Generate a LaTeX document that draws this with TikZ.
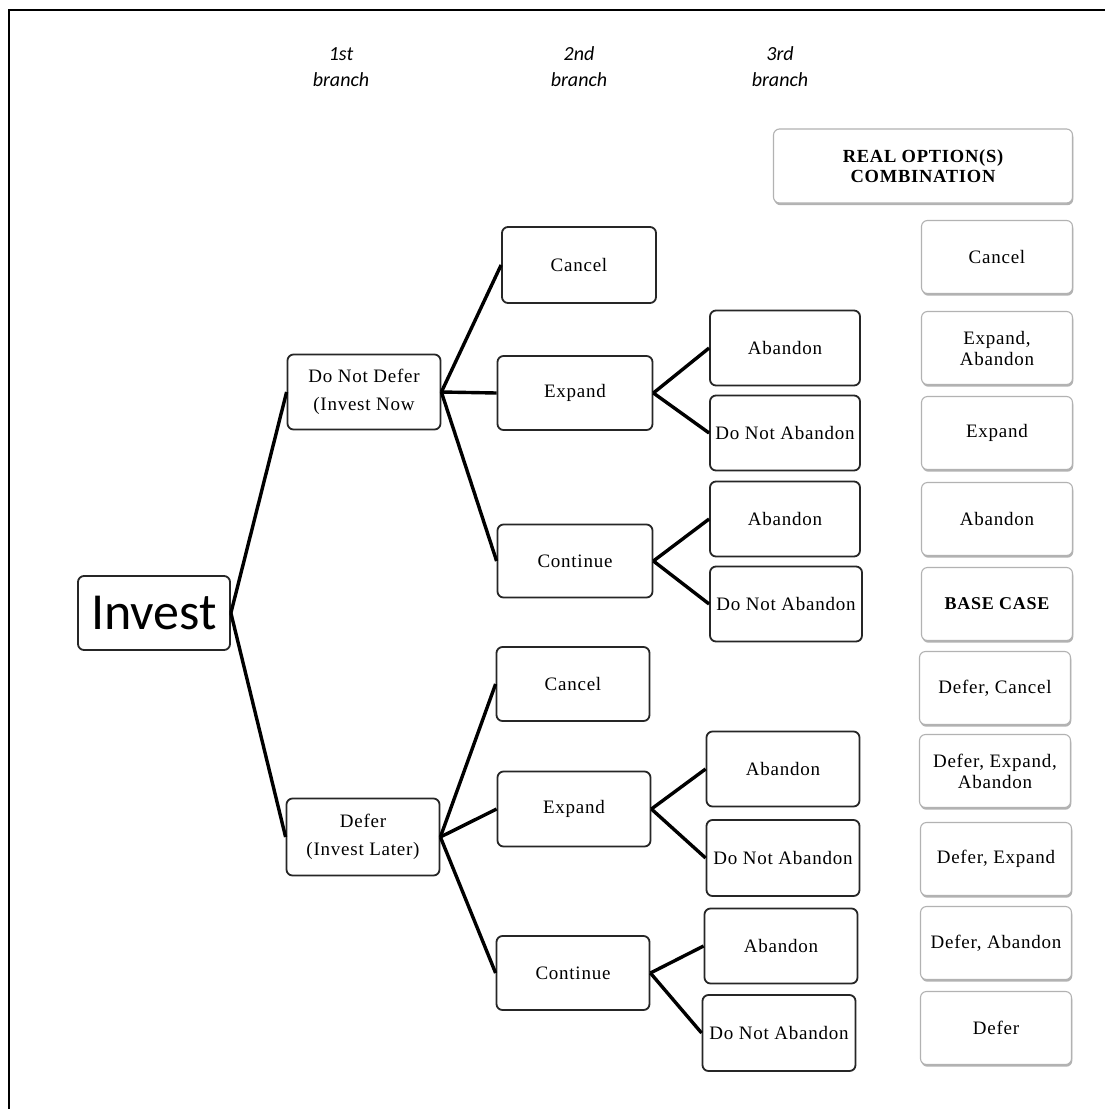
\documentclass[tikz,border=0pt]{standalone}
\usepackage{fontspec}
\setmainfont{Liberation Serif}
\newfontfamily\boxfont[LetterSpace=4]{Liberation Serif}
\newfontfamily\headfont{Carlito}
\usetikzlibrary{shadows}
\begin{document}
\begin{tikzpicture}[x=1pt,y=-1pt,
  treebox/.style={draw=black!85, line width=1.8pt, rounded corners=6pt, fill=white,
    minimum width=153pt, minimum height=75pt, inner sep=0pt, align=center,
    font=\boxfont\fontsize{19}{28}\selectfont},
  combo/.style={draw=black!30, line width=1.1pt, rounded corners=6pt, fill=white,
    minimum width=151pt, minimum height=73pt, inner sep=0pt, align=center,
    font=\boxfont\fontsize{19}{21}\selectfont,
    drop shadow={shadow xshift=0.8pt, shadow yshift=-2.2pt, fill=black, opacity=0.3}},
  link/.style={line width=3.4pt, black},
  head/.style={font=\headfont\itshape\fontsize{20}{26}\selectfont, align=center}]

\useasboundingbox (0,0) rectangle (1105,1109);
\fill[white] (0,0) rectangle (1105,1109);

% page frame (left and top rules)
\draw[line width=2.6pt, line cap=rect] (9,1109) -- (9,10) -- (1105,10);

% column headings
\node[head] (h1) at (341,67) {1st\\branch};
\node[head] (h2) at (579,67) {2nd\\branch};
\node[head] (h3) at (780,67) {3rd\\branch};

% root
\node[treebox, minimum width=152pt, minimum height=74pt,
      font=\headfont\fontsize{52}{60}\selectfont] (inv) at (154,613) {Invest};

% first branch
\node[treebox] (dnd) at (364,392) {Do Not Defer\\(Invest Now};
\node[treebox, minimum height=77pt] (def) at (363,837) {Defer\\(Invest Later)};

% second branch
\node[treebox, minimum width=154pt, minimum height=76pt] (c1) at (579,265) {Cancel};
\node[treebox, minimum width=155pt, minimum height=74pt] (e1) at (575,393) {Expand};
\node[treebox, minimum width=155pt, minimum height=73pt] (k1) at (575,561) {Continue};
\node[treebox, minimum height=74pt] (c2) at (573,684) {Cancel};
\node[treebox] (e2) at (574,809) {Expand};
\node[treebox, minimum height=74pt] (k2) at (573,973) {Continue};

% third branch
\node[treebox, minimum width=150pt] (a1) at (785,348) {Abandon};
\node[treebox, minimum width=150pt] (n1) at (785,433) {Do Not Abandon};
\node[treebox, minimum width=150pt] (a2) at (785,519) {Abandon};
\node[treebox, minimum width=152pt] (n2) at (786,604) {Do Not Abandon};
\node[treebox] (a3) at (783,769) {Abandon};
\node[treebox, minimum height=76pt] (n3) at (783,858) {Do Not Abandon};
\node[treebox] (a4) at (781,946) {Abandon};
\node[treebox, minimum height=76pt] (n4) at (779,1033) {Do Not Abandon};

% connectors
\draw[link] (inv.east) -- (dnd.west);
\draw[link] (inv.east) -- (def.west);
\draw[link] (dnd.east) -- (c1.west);
\draw[link] (dnd.east) -- (e1.west);
\draw[link] (dnd.east) -- (k1.west);
\draw[link] (def.east) -- (c2.west);
\draw[link] (def.east) -- (e2.west);
\draw[link] (def.east) -- (k2.west);
\draw[link] (e1.east) -- (a1.west);
\draw[link] (e1.east) -- (n1.west);
\draw[link] (k1.east) -- (a2.west);
\draw[link] (k1.east) -- (n2.west);
\draw[link] (e2.east) -- (a3.west);
\draw[link] (e2.east) -- (n3.west);
\draw[link] (k2.east) -- (a4.west);
\draw[link] (k2.east) -- (n4.west);

% resulting option combinations
\node[combo, minimum width=299pt, minimum height=74pt,
      font=\boxfont\bfseries\fontsize{18.5}{20}\selectfont] (r0) at (923,166) {REAL OPTION(S)\\COMBINATION};
\node[combo] (r1) at (997,257) {Cancel};
\node[combo] (r2) at (997,348) {Expand,\\Abandon};
\node[combo] (r3) at (997,433) {Expand};
\node[combo] (r4) at (997,519) {Abandon};
\node[combo, font=\boxfont\bfseries\fontsize{18}{21}\selectfont] (r5) at (997,604) {BASE CASE};
\node[combo] (r6) at (995,688) {Defer, Cancel};
\node[combo] (r7) at (995,771) {Defer, Expand,\\Abandon};
\node[combo] (r8) at (996,859) {Defer, Expand};
\node[combo] (r9) at (996,943) {Defer, Abandon};
\node[combo] (r10) at (996,1028) {Defer};
\end{tikzpicture}
\end{document}
